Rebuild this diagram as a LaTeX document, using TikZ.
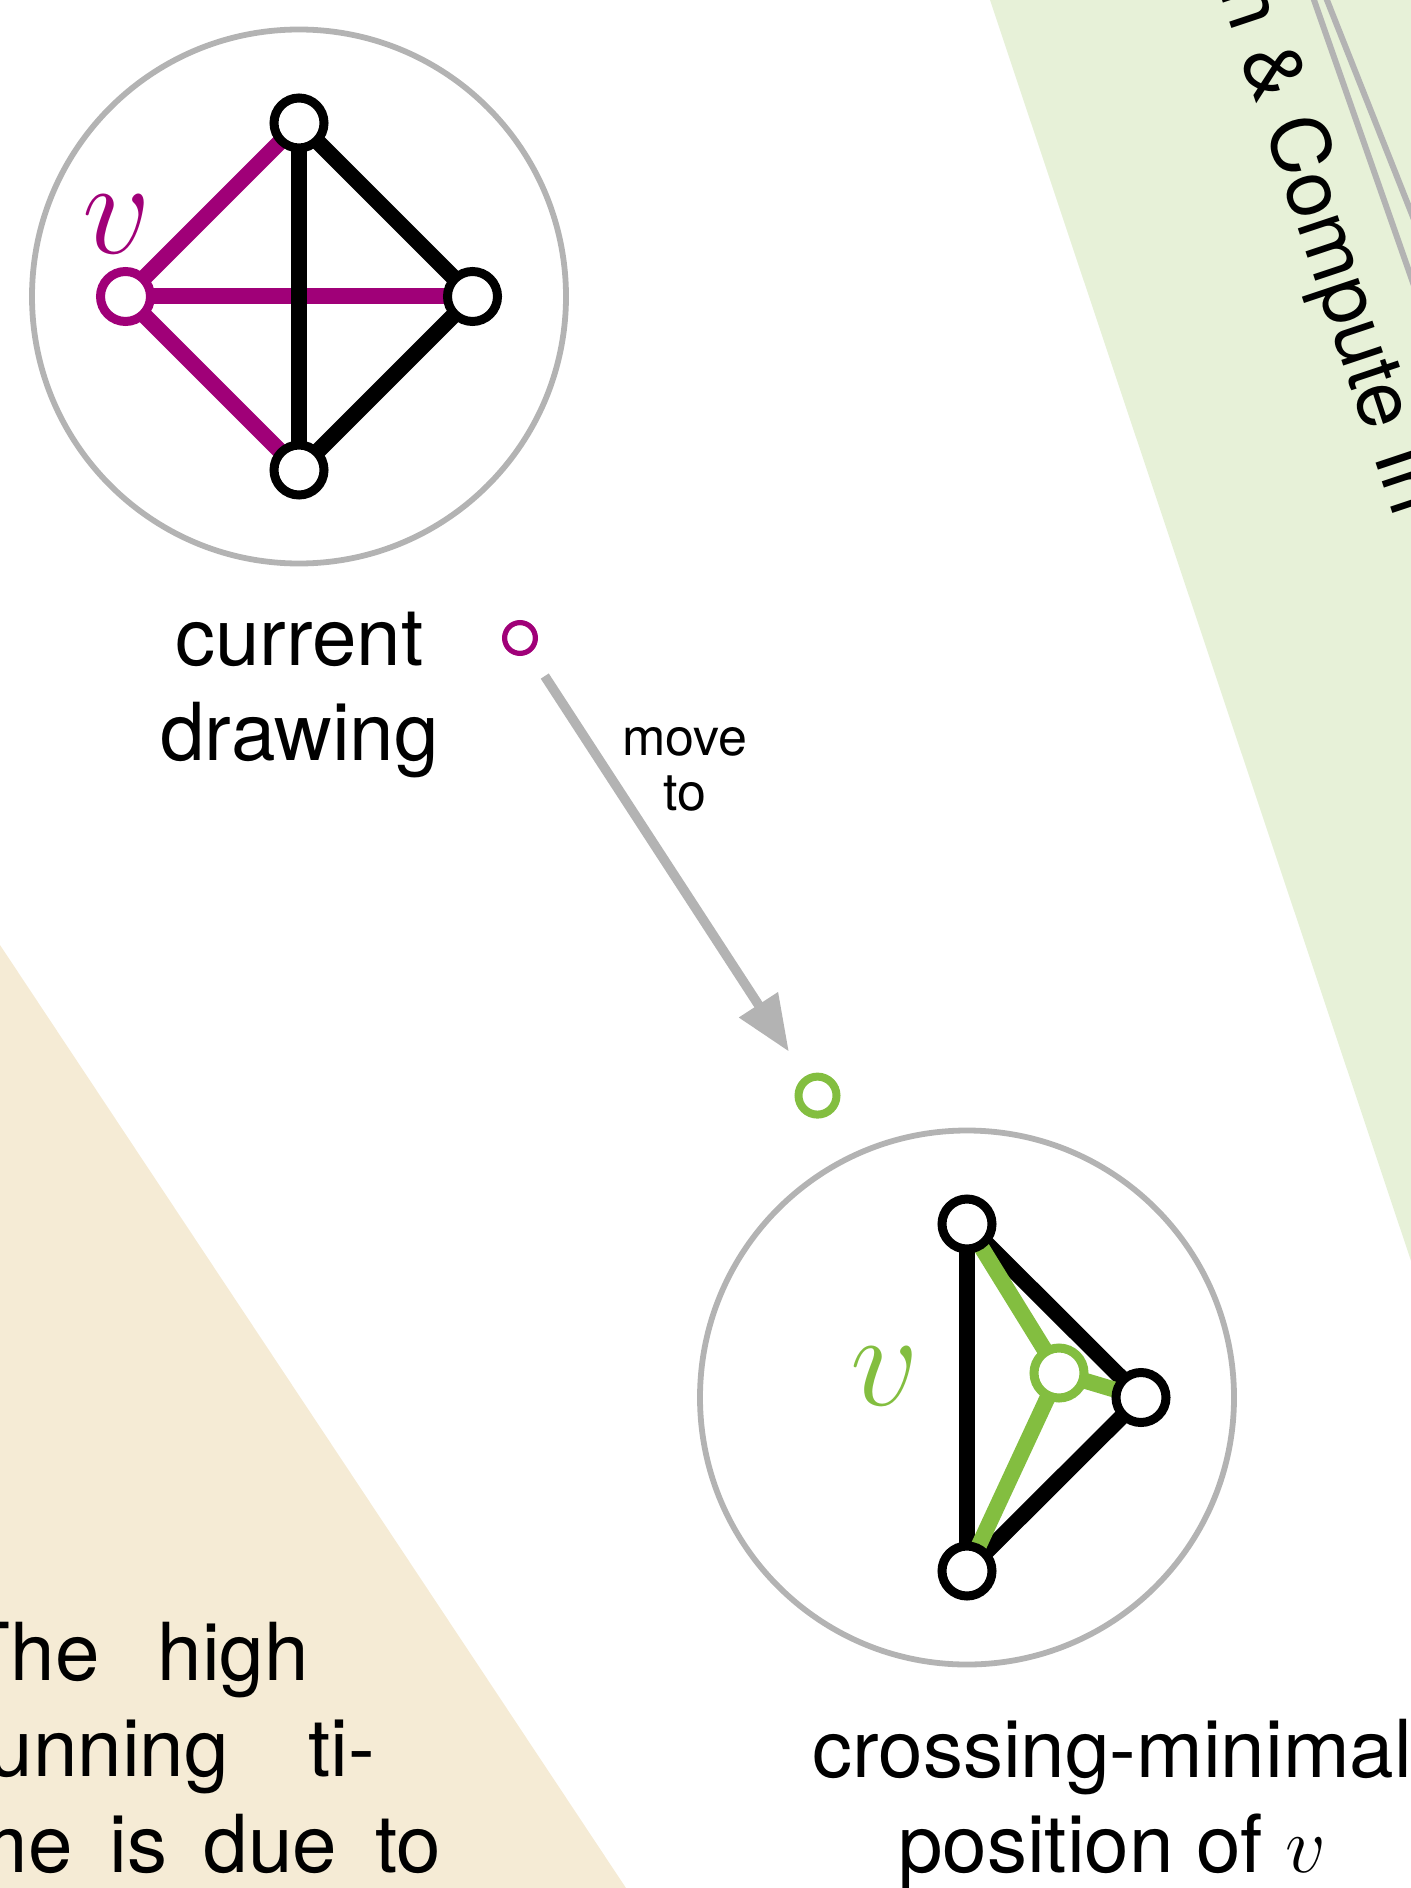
\RequirePackage{fix-cm}
\documentclass[tikz,border=0pt]{standalone}
\usepackage{fontspec}
\setmainfont{TeX Gyre Heros}
\usetikzlibrary{arrows.meta}
\definecolor{vmag}{RGB}{160,0,120}
\definecolor{vgreen}{RGB}{131,190,64}
\definecolor{bandbeige}{RGB}{245,235,213}
\definecolor{bandgreen}{RGB}{231,241,216}
\definecolor{ringgray}{RGB}{179,179,179}
\pgfdeclarelayer{bands}
\pgfdeclarelayer{edges}
\pgfsetlayers{bands,edges,main}
\begin{document}
\begin{tikzpicture}[x=0.5pt,y=-0.5pt,
  ring/.style={circle, draw=ringgray, line width=2.9pt, minimum size=267pt, inner sep=0pt, outer sep=0pt},
  vert/.style={circle, draw=black, fill=white, line width=4.5pt, minimum size=25pt, inner sep=0pt},
  magvert/.style={vert, draw=vmag},
  grnvert/.style={vert, draw=vgreen},
  blackedge/.style={draw=black, line width=8pt},
  magedge/.style={draw=vmag, line width=8pt},
  grnedge/.style={draw=vgreen, line width=8pt},
  bigtext/.style={font=\fontsize{40}{47.5}\selectfont, inner sep=0pt, outer sep=0pt},
  smalltext/.style={font=\fontsize{26}{27.5}\selectfont, inner sep=0pt, outer sep=0pt},
  vlabel/.style={font=\fontsize{67.5}{70}\selectfont, inner sep=0pt},
  guide/.style={draw=ringgray, line width=3pt},
  magmarker/.style={circle, inner sep=0pt, draw=vmag, line width=2.6pt, minimum size=15.4pt},
  grnmarker/.style={circle, inner sep=0pt, draw=vgreen, line width=4pt, minimum size=19pt},
  movearrow/.style={draw=ringgray, line width=4.8pt, -{Triangle[length=28pt,width=22pt]}, shorten <=13.7pt, shorten >=14.7pt}
]
\useasboundingbox (0,0) rectangle (1411,1888);

\begin{pgfonlayer}{bands}
  \clip (0,0) rectangle (1411,1888);
  \fill[bandgreen] (990,0) -- (1411,1261) -- (1411,0) -- cycle;
  \fill[bandbeige] (0,945) -- (626,1888) -- (0,1888) -- cycle;
  \draw[guide] (1307,-20) -- (1433,340);
  \draw[guide] (1319,-20) -- (1430,260);
\end{pgfonlayer}

\clip (0,0) rectangle (1411,1888);

% rotated band title
\node[bigtext, rotate=-71.53, anchor=base west] (bandtitle) at (1219,-8) {n \& Compute In};

% paragraph in the beige band
\node[bigtext, anchor=base west] (par1) at (-38,1680) {The\hspace{28.9pt}high};
\node[bigtext, anchor=base west] (par2) at (-38,1776) {running\hspace{39.6pt}ti-};
\node[bigtext, anchor=base west] (par3) at (-38,1872) {me\hspace{18.2pt}is\hspace{18.2pt}due\hspace{19.1pt}to};

% first drawing
\node[ring] (ring1) at (299,296.5) {};
\node[vert] (a1) at (299,123) {};
\node[magvert] (v1) at (125.5,296.5) {};
\node[vert] (c1) at (472.5,296.5) {};
\node[vert] (d1) at (299,470) {};
\node[vlabel, text=vmag] (lv1) at (116.8,224) {$v$};
\node[bigtext, align=center, anchor=base] (cur) at (299.5,760) {current\\drawing};

% second drawing
\node[ring] (ring2) at (967,1397.5) {};
\node[vert] (a2) at (967,1224) {};
\node[vert] (c2) at (1141,1397.5) {};
\node[vert] (d2) at (967,1571) {};
\node[grnvert] (v2) at (1059,1373) {};
\node[vlabel, text=vgreen] (lv2) at (885,1376) {$v$};
\node[bigtext, align=center, anchor=base] (cmp) at (1112,1872) {crossing-minimal\\position of $v$};

\begin{pgfonlayer}{edges}
  \draw[magedge] (v1.center) -- (a1.center);
  \draw[magedge] (v1.center) -- (c1.center);
  \draw[magedge] (v1.center) -- (d1.center);
  \draw[blackedge] (a1.center) -- (d1.center);
  \draw[blackedge] (a1.center) -- (c1.center);
  \draw[blackedge] (c1.center) -- (d1.center);
  \draw[blackedge] (a2.center) -- (d2.center);
  \draw[blackedge] (a2.center) -- (c2.center);
  \draw[blackedge] (c2.center) -- (d2.center);
  \draw[grnedge] (v2.center) -- (a2.center);
  \draw[grnedge] (v2.center) -- (c2.center);
  \draw[grnedge] (v2.center) -- (d2.center);
\end{pgfonlayer}

% move arrow
\node[magmarker] (mfrom) at (520,638) {};
\node[grnmarker] (mto) at (817.5,1095.6) {};
\draw[movearrow] (mfrom) -- (mto);
\node[smalltext, align=center, anchor=base] (mv) at (685,810) {move\\to};
\end{tikzpicture}
\end{document}
